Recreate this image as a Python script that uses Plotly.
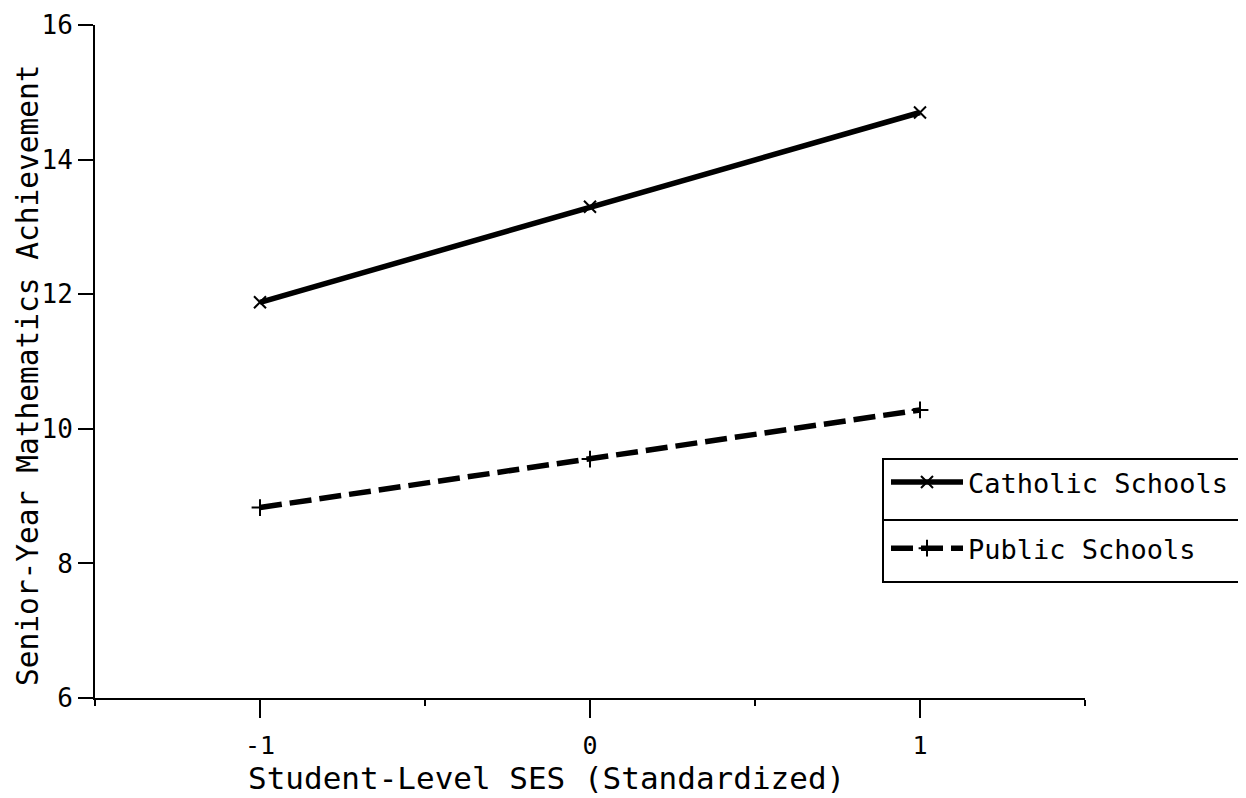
import plotly.graph_objects as go

ses = [-1, 0, 1]
catholic = [11.88, 13.30, 14.70]
public = [8.83, 9.55, 10.28]
series_names = ["Catholic Schools", "Public Schools"]
x_tick_vals = [-1, 0, 1]
x_tick_text = ["-1", "0", "1"]
y_tick_vals = [6, 8, 10, 12, 14, 16]
x_title = "Student-Level SES (Standardized)"
y_title = "Senior-Year Mathematics Achievement"

FONT = "DejaVu Sans Mono"
W, H = 1246, 798
OFF = 8  # page body margin
# plot area in screenshot pixels: x 95..1085, y 25..698
L = 95 - OFF
T = 25 - OFF
R = W - (1085 - OFF)
B = H - (698 - OFF)
pw, ph = W - L - R, H - T - B


def px_x(p):
    return (p - OFF - L) / pw


def px_y(p):
    return (H - B - (p - OFF)) / ph


fig = go.Figure()
fig.add_trace(go.Scatter(
    x=ses, y=catholic, name=series_names[0], mode="lines+markers",
    line=dict(color="black", width=5.5),
    marker=dict(symbol="x-thin-open", size=12, color="black", line=dict(width=2, color="black")),
    legendgroup="a",
))
fig.add_trace(go.Scatter(
    x=ses, y=public, name=series_names[1], mode="lines+markers",
    line=dict(color="black", width=5.5, dash="22px,8px"),
    marker=dict(symbol="cross-thin-open", size=12, color="black", line=dict(width=2, color="black")),
    legendgroup="b",
))

# legend frame and divider
fig.add_shape(type="rect", xref="paper", yref="paper",
              x0=px_x(883), x1=px_x(1262), y0=px_y(582), y1=px_y(459),
              line=dict(color="black", width=2), fillcolor="rgba(0,0,0,0)", layer="above")
fig.add_shape(type="line", xref="paper", yref="paper",
              x0=px_x(883), x1=px_x(1262), y0=px_y(520), y1=px_y(520),
              line=dict(color="black", width=2), layer="above")

# axis titles
fig.add_annotation(text=x_title, xref="paper", yref="paper",
                   x=px_x(546), y=px_y(778), xanchor="center", yanchor="middle",
                   showarrow=False, font=dict(family=FONT, size=31, color="black"))
fig.add_annotation(text=y_title, xref="paper", yref="paper", textangle=-90,
                   x=px_x(28), y=px_y(375), xanchor="center", yanchor="middle",
                   showarrow=False, font=dict(family=FONT, size=29.5, color="black"))

fig.update_layout(
    width=W, height=H,
    margin=dict(l=L, r=R, t=T, b=B, autoexpand=False),
    paper_bgcolor="white", plot_bgcolor="white",
    font=dict(family=FONT, color="black"),
    showlegend=True,
    legend=dict(
        x=px_x(886), y=px_y(458), xanchor="left", yanchor="top",
        bgcolor="rgba(0,0,0,0)", borderwidth=0,
        font=dict(family=FONT, size=27, color="black"),
        tracegroupgap=28, itemwidth=72,
    ),
    xaxis=dict(
        range=[-1.5, 1.5], showgrid=False, zeroline=False,
        showline=True, linecolor="black", linewidth=2,
        ticks="outside", ticklen=18, tickwidth=2, tickcolor="black",
        tickmode="array", tickvals=x_tick_vals, ticktext=x_tick_text,
        ticklabelstandoff=6,
        tickfont=dict(family=FONT, size=25, color="black"),
        minor=dict(ticks="outside", ticklen=6, tickwidth=2, tickcolor="black", dtick=0.5, tick0=0),
        automargin=False,
    ),
    yaxis=dict(
        range=[6, 16], showgrid=False, zeroline=False,
        showline=True, linecolor="black", linewidth=2,
        ticks="outside", ticklen=15, tickwidth=2, tickcolor="black",
        tickmode="array", tickvals=y_tick_vals,
        tickfont=dict(family=FONT, size=26, color="black"),
        automargin=False,
    ),
)

fig.write_html("out.html")
